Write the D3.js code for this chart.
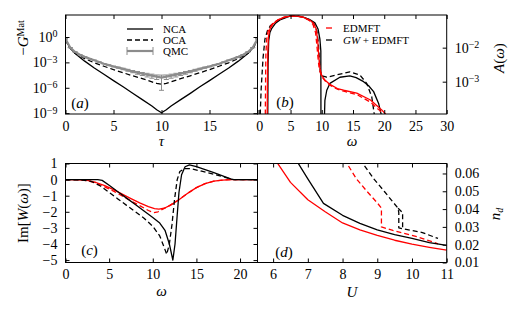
<!DOCTYPE html>
<html>
<head>
<meta charset="utf-8">
<script src="https://cdn.jsdelivr.net/npm/d3@7/dist/d3.min.js"></script>
<style>
body { margin: 0; background: #fff; }
text { font-family: "Liberation Serif", "DejaVu Serif", serif; fill: #000; }
.frame { fill: none; stroke: #000; stroke-width: 1; }
.curve { fill: none; stroke-width: 1.3; stroke-linejoin: round; }
.dash { stroke-dasharray: 5,3; }
</style>
</head>
<body>
<script>
//panel (a): -G(tau) on the Matsubara axis
var tauA = [0, 0.2, 0.5, 1, 2, 3, 4, 5, 6, 7, 8, 9, 9.5, 10, 10.5, 11, 12, 13, 14, 15, 16, 17, 18, 19, 19.5, 19.8, 20];
var ncaG = [6e-1, 1.8e-1, 5e-2, 1.1e-2, 1.4e-3, 2.2e-4, 4e-5, 7e-6, 1.3e-6, 2.2e-7, 4e-8, 7e-9, 2.5e-9, 1.1e-9,
            2.5e-9, 7e-9, 4e-8, 2.2e-7, 1.3e-6, 7e-6, 4e-5, 2.2e-4, 1.4e-3, 1.1e-2, 5e-2, 1.8e-1, 6e-1];
var ocaG = [6e-1, 1.6e-1, 4.5e-2, 1.2e-2, 2.8e-3, 9e-4, 3.5e-4, 1.4e-4, 6e-5, 2.6e-5, 1.2e-5, 5e-6, 3.3e-6, 2.6e-6,
            3.3e-6, 5e-6, 1.2e-5, 2.6e-5, 6e-5, 1.4e-4, 3.5e-4, 9e-4, 2.8e-3, 1.2e-2, 4.5e-2, 1.6e-1, 6e-1];
var qmcTau = [0, 0.5, 1, 1.5, 2, 2.5, 3, 3.5, 4, 4.5, 5, 5.5, 6, 6.5, 7, 7.5, 8, 8.5, 9, 9.5, 10,
              10.5, 11, 11.5, 12, 12.5, 13, 13.5, 14, 14.5, 15, 15.5, 16, 16.5, 17, 17.5, 18, 18.5, 19, 19.5, 20];
var qmcG = [6e-1, 5.5e-2, 1.7e-2, 8e-3, 4.5e-3, 2.8e-3, 1.8e-3, 1.1e-3, 7e-4, 4.8e-4, 3.3e-4, 2.4e-4, 1.7e-4, 1.2e-4, 8.5e-5, 6.2e-5, 4.6e-5, 3.5e-5, 2.7e-5, 2.1e-5, 1.6e-5,
            2.1e-5, 2.7e-5, 3.5e-5, 4.6e-5, 6.2e-5, 8.5e-5, 1.2e-4, 1.7e-4, 2.4e-4, 3.3e-4, 4.8e-4, 7e-4, 1.1e-3, 1.8e-3, 2.8e-3, 4.5e-3, 8e-3, 1.7e-2, 5.5e-2, 6e-1];
var qmcErr = [1.8e-2, 1.7e-3, 5e-4, 2.4e-4, 1.4e-4, 8e-5, 5e-5, 3.6e-5, 3.5e-5, 3.8e-5, 3.3e-5, 3.6e-5, 3.4e-5, 3e-5, 2.5e-5, 2.2e-5, 1.8e-5, 1.6e-5, 1.35e-5, 1.15e-5, 1.55e-5,
              1.15e-5, 1.35e-5, 1.6e-5, 1.8e-5, 2.2e-5, 2.5e-5, 3e-5, 3.4e-5, 3.6e-5, 3.3e-5, 3.8e-5, 3.5e-5, 3.6e-5, 5e-5, 8e-5, 1.4e-4, 2.4e-4, 5e-4, 1.7e-3, 1.8e-2];

//panel (b): spectral function A(omega), [omega, A]
var edmftNcaA = [[1.25, 6.3e-5], [1.3, 1.0e-3], [1.35, 6.3e-3], [1.45, 2.0e-2], [1.7, 3.55e-2], [2.2, 5.0e-2], [3, 6.6e-2], [4, 7.9e-2], [5, 8.5e-2], [6, 8.5e-2], [7, 7.9e-2], [8, 6.6e-2], [8.7, 5.25e-2], [9.1, 3.55e-2], [9.35, 1.58e-2], [9.5, 6.3e-3], [9.7, 2.5e-3], [10, 1.51e-3], [10.5, 1.12e-3], [11.3, 8.3e-4], [12.5, 6.3e-4], [13.5, 5.6e-4], [15.6, 4.6e-4], [17.8, 2.9e-4], [19.6, 1.48e-4], [20.2, 1.12e-4], [20.4, 7.9e-5]];
var edmftOcaA = [[0.95, 6.3e-5], [1.0, 1.0e-3], [1.05, 6.3e-3], [1.2, 2.0e-2], [1.5, 3.55e-2], [2.1, 5.0e-2], [3, 6.6e-2], [4, 7.9e-2], [5, 8.5e-2], [6, 8.5e-2], [7, 7.9e-2], [8, 6.3e-2], [8.6, 4.8e-2], [9.0, 2.8e-2], [9.2, 1.26e-2], [9.4, 5.0e-3], [9.6, 2.24e-3], [10, 1.41e-3], [10.5, 1.07e-3], [11.3, 7.9e-4], [12.5, 6.0e-4], [13.5, 5.25e-4], [15.6, 4.2e-4], [17.8, 2.5e-4], [19.3, 1.41e-4], [19.7, 1.12e-4], [19.9, 7.9e-5]];
var gwNcaA = [[1.35, 6.3e-5], [1.4, 3.2e-3], [1.5, 1.58e-2], [1.7, 2.8e-2], [2.0, 3.7e-2], [2.6, 5.25e-2], [3.3, 6.5e-2], [4.9, 8.5e-2], [6, 8.5e-2], [7, 7.9e-2], [8, 6.8e-2], [8.9, 5.4e-2], [9.4, 3.55e-2], [9.7, 1.78e-2], [9.85, 7.9e-3], [9.87, 6.3e-5], [10.1, 1e-5], [10.4, 6.3e-5], [10.5, 2.8e-4], [10.8, 5.6e-4], [11.3, 8.9e-4], [12.9, 1.35e-3], [14.5, 1.48e-3], [15.5, 1.32e-3], [16.7, 1.0e-3], [17.5, 7.6e-4], [18.3, 5.1e-4], [19.1, 2.3e-4], [19.5, 1.12e-4], [19.6, 6.3e-5]];
var gwOcaA = [[0.1, 6.3e-5], [0.3, 6.3e-4], [0.6, 5.0e-3], [0.9, 1.78e-2], [1.3, 3.16e-2], [1.8, 4.5e-2], [2.5, 5.6e-2], [3.5, 7.2e-2], [5, 8.7e-2], [6, 8.7e-2], [7, 7.9e-2], [8, 6.6e-2], [8.8, 5.0e-2], [9.2, 3.16e-2], [9.45, 1.41e-2], [9.6, 5.0e-3], [9.75, 2.0e-3], [10, 1.48e-3], [10.8, 1.35e-3], [12.4, 1.58e-3], [14.5, 1.95e-3], [16.1, 1.58e-3], [17.2, 8.9e-4], [18.0, 3.6e-4], [18.4, 1.12e-4], [18.5, 6.3e-5]];

//panel (c): Im W(omega), [omega, ImW]
var gwNcaW = [[0, 0], [3.7, 0], [4.2, -0.05], [5, -0.35], [6, -0.75], [7, -1.15], [8, -1.55], [9, -1.95], [10, -2.35], [10.8, -2.7], [11.4, -3.15], [11.9, -4.0], [12.3, -5.0], [12.55, -4.0], [12.8, -2.2], [13.0, -0.8], [13.3, 0.3], [13.7, 0.8], [14.2, 0.92], [15, 0.8], [16, 0.62], [17, 0.43], [18, 0.23], [19, 0.03], [19.3, 0], [22, 0]];
var gwOcaW = [[0, 0], [2, -0.03], [3, -0.12], [4, -0.4], [5, -0.8], [6, -1.2], [7, -1.6], [8, -2.0], [9, -2.4], [10, -2.9], [10.8, -3.5], [11.3, -4.2], [11.6, -4.65], [11.9, -4.0], [12.2, -2.8], [12.5, -1.2], [12.8, 0.0], [13.1, 0.5], [13.6, 0.68], [14.3, 0.68], [15.6, 0.52], [17, 0.33], [18.3, 0.14], [19.1, 0.01], [19.5, 0], [22, 0]];
var edmftNcaW = [[0, 0], [1.5, -0.01], [2.5, -0.05], [3.5, -0.18], [4.5, -0.38], [5.5, -0.62], [6.5, -0.9], [7.5, -1.18], [8.5, -1.45], [9.5, -1.68], [10.2, -1.8], [10.7, -1.83], [11.3, -1.78], [12, -1.6], [13, -1.25], [14, -0.85], [15, -0.5], [16, -0.25], [17, -0.1], [18, -0.03], [19, 0], [22, 0]];
var edmftOcaW = [[0, 0], [1.5, -0.01], [2.5, -0.06], [3.5, -0.22], [4.5, -0.45], [5.5, -0.72], [6.5, -1.02], [7.5, -1.32], [8.5, -1.62], [9.5, -1.92], [10.1, -2.05], [10.6, -2.0], [11.2, -1.82], [11.8, -1.65], [12.5, -1.42], [13, -1.25], [14, -0.85], [15, -0.5], [16, -0.25], [17, -0.1], [18, -0.03], [19, 0], [22, 0]];

//panel (d): double occupancy n_d(U), [U, n_d]
var edmftNcaN = [[6.05, 0.068], [6.5, 0.055], [7.0, 0.0452], [7.5, 0.0385], [8, 0.0322], [8.5, 0.0283], [9, 0.0252], [9.5, 0.0225], [10, 0.0203], [10.5, 0.0185], [11, 0.0169]];
var gwNcaN = [[6.65, 0.068], [7.0, 0.057], [7.45, 0.0432], [8, 0.0365], [8.5, 0.032], [9, 0.0283], [9.5, 0.0257], [10, 0.0235], [10.5, 0.0212], [11, 0.0196]];
var edmftOcaN = [[8.05, 0.068], [8.4, 0.057], [8.7, 0.050], [9.0, 0.0435], [9.12, 0.0405], [9.12, 0.030], [9.45, 0.028], [10.15, 0.0245], [10.75, 0.0205]];
var gwOcaN = [[8.5, 0.068], [8.9, 0.057], [9.2, 0.050], [9.45, 0.044], [9.6, 0.0405], [9.62, 0.038], [9.62, 0.0295], [9.73, 0.029], [10.3, 0.0268], [10.75, 0.0235]];
var gwOcaN2 = [[9.6, 0.0405], [9.73, 0.038], [9.73, 0.0295]];

//tick values
var ticksTau = [0, 5, 10, 15, 20], labelsTau = [0, 5, 10, 15];
var ticksGA = [1e0, 1e-3, 1e-6, 1e-9];
var ticksOmegaB = [0, 5, 10, 15, 20, 25, 30];
var ticksAB = [1e-2, 1e-3];
var ticksOmegaC = [0, 5, 10, 15, 20];
var ticksWC = [1, 0, -1, -2, -3, -4, -5];
var ticksUD = [6, 7, 8, 9, 10, 11];
var ticksND = [0.01, 0.02, 0.03, 0.04, 0.05, 0.06];

var width = 508, height = 310;
var svg = d3.select("body")
    .append("svg")
    .attr("width", width)
    .attr("height", height);

//panel scales
var xA = d3.scaleLinear().domain([0, 20]).range([65.5, 257.5]);
var yA = d3.scaleLog().domain([Math.pow(10, -9.1), Math.pow(10, 2.6)]).range([114, 15]);
var xB = d3.scaleLinear().domain([-0.29, 30]).range([257.5, 446.7]);
var yB = d3.scaleLog().domain([Math.pow(10, -3.95), Math.pow(10, -1.04)]).range([114, 15]);
var xC = d3.scaleLinear().domain([0, 22]).range([65.5, 257.5]);
var yC = d3.scaleLinear().domain([-5.15, 1]).range([262.5, 163.5]);
var xD = d3.scaleLinear().domain([5.55, 11]).range([257.5, 446.7]);
var yD = d3.scaleLinear().domain([0.01, 0.0656]).range([262.5, 163.5]);

//clip rect for each panel
function addClip(id, x, y){
    svg.append("clipPath").attr("id", id)
        .append("rect")
        .attr("x", x.range()[0]).attr("y", y.range()[1])
        .attr("width", x.range()[1] - x.range()[0])
        .attr("height", y.range()[0] - y.range()[1]);
    return svg.append("g").attr("clip-path", "url(#" + id + ")");
};

//axis helper: inward ticks, no domain path
function addAxis(gen, tx, ty){
    var g = svg.append("g")
        .attr("transform", "translate(" + tx + "," + ty + ")")
        .call(gen);
    g.select(".domain").remove();
    g.attr("font-size", 14);
    g.selectAll("line").attr("stroke", "#000");
    return g;
};

//10^n labels
function powLabels(g){
    g.selectAll(".tick text").each(function(d){
        var t = d3.select(this), e = Math.round(Math.log10(d));
        t.text(null);
        t.append("tspan").text("10");
        t.append("tspan").attr("dy", "-0.45em").attr("font-size", "10px")
            .text(e < 0 ? "\u2212" + (-e) : e);
    });
};

function frame(x, y){
    svg.append("rect").attr("class", "frame")
        .attr("x", x.range()[0]).attr("y", y.range()[1])
        .attr("width", x.range()[1] - x.range()[0])
        .attr("height", y.range()[0] - y.range()[1]);
};

function xyLine(x, y){
    return d3.line().x(function(d){ return x(d[0]); }).y(function(d){ return y(d[1]); });
};

function drawCurve(g, data, x, y, color, dashed){
    g.append("path")
        .datum(data)
        .attr("class", "curve" + (dashed ? " dash" : ""))
        .attr("stroke", color)
        .attr("d", xyLine(x, y));
};

var fmtInt = d3.format("d");

// ---------- panel (a) ----------
var gA = addClip("clipA", xA, yA);
var ncaPts = tauA.map(function(t, i){ return [t, ncaG[i]]; });
var ocaPts = tauA.map(function(t, i){ return [t, ocaG[i]]; });
var qmcPts = qmcTau.map(function(t, i){ return [t, qmcG[i], qmcErr[i]]; });
drawCurve(gA, ncaPts, xA, yA, "#000", false);
drawCurve(gA, ocaPts, xA, yA, "#000", true);
gA.append("path").datum(qmcPts)
    .attr("fill", "none").attr("stroke", "#8c8c8c").attr("stroke-width", 2.2)
    .attr("d", xyLine(xA, yA));
var eb = gA.selectAll(".eb").data(qmcPts).enter().append("g").attr("class", "eb")
    .attr("stroke", "#8c8c8c").attr("stroke-width", 1);
eb.append("line")
    .attr("x1", function(d){ return xA(d[0]); }).attr("x2", function(d){ return xA(d[0]); })
    .attr("y1", function(d){ return yA(d[1] + d[2]); }).attr("y2", function(d){ return yA(d[1] - d[2]); });
eb.append("line")
    .attr("x1", function(d){ return xA(d[0]) - 2.5; }).attr("x2", function(d){ return xA(d[0]) + 2.5; })
    .attr("y1", function(d){ return yA(d[1] + d[2]); }).attr("y2", function(d){ return yA(d[1] + d[2]); });
eb.append("line")
    .attr("x1", function(d){ return xA(d[0]) - 2.5; }).attr("x2", function(d){ return xA(d[0]) + 2.5; })
    .attr("y1", function(d){ return yA(d[1] - d[2]); }).attr("y2", function(d){ return yA(d[1] - d[2]); });

addAxis(d3.axisBottom(xA).tickValues(ticksTau).tickSize(-4).tickPadding(7)
    .tickFormat(function(d){ return labelsTau.indexOf(d) >= 0 ? fmtInt(d) : ""; }), 0, yA.range()[0]);
addAxis(d3.axisTop(xA).tickValues(ticksTau).tickSize(-4).tickFormat(""), 0, yA.range()[1]);
powLabels(addAxis(d3.axisLeft(yA).tickValues(ticksGA).tickSize(-4).tickPadding(8), xA.range()[0], 0));
addAxis(d3.axisRight(yA).tickValues(ticksGA).tickSize(-4).tickFormat(""), xA.range()[1], 0);

// ---------- panel (b) ----------
var gB = addClip("clipB", xB, yB);
drawCurve(gB, gwOcaA, xB, yB, "#000", true);
drawCurve(gB, gwNcaA, xB, yB, "#000", false);
drawCurve(gB, edmftOcaA, xB, yB, "#ff0000", true);
drawCurve(gB, edmftNcaA, xB, yB, "#ff0000", false);

addAxis(d3.axisBottom(xB).tickValues(ticksOmegaB).tickSize(-4).tickPadding(7).tickFormat(fmtInt), 0, yB.range()[0]);
addAxis(d3.axisTop(xB).tickValues(ticksOmegaB).tickSize(-4).tickFormat(""), 0, yB.range()[1]);
powLabels(addAxis(d3.axisRight(yB).tickValues(ticksAB).tickSize(-4).tickPadding(8), xB.range()[1], 0));

// ---------- panel (c) ----------
var gC = addClip("clipC", xC, yC);
drawCurve(gC, edmftOcaW, xC, yC, "#ff0000", true);
drawCurve(gC, edmftNcaW, xC, yC, "#ff0000", false);
drawCurve(gC, gwOcaW, xC, yC, "#000", true);
drawCurve(gC, gwNcaW, xC, yC, "#000", false);

addAxis(d3.axisBottom(xC).tickValues(ticksOmegaC).tickSize(-4).tickPadding(7).tickFormat(fmtInt), 0, yC.range()[0]);
addAxis(d3.axisTop(xC).tickValues(ticksOmegaC).tickSize(-4).tickFormat(""), 0, yC.range()[1]);
addAxis(d3.axisLeft(yC).tickValues(ticksWC).tickSize(-4).tickPadding(8).tickFormat(fmtInt), xC.range()[0], 0);
addAxis(d3.axisRight(yC).tickValues(ticksWC).tickSize(-4).tickFormat(""), xC.range()[1], 0);

// ---------- panel (d) ----------
var gD = addClip("clipD", xD, yD);
drawCurve(gD, edmftNcaN, xD, yD, "#ff0000", false);
drawCurve(gD, edmftOcaN, xD, yD, "#ff0000", true);
drawCurve(gD, gwNcaN, xD, yD, "#000", false);
drawCurve(gD, gwOcaN, xD, yD, "#000", true);
drawCurve(gD, gwOcaN2, xD, yD, "#000", true);

addAxis(d3.axisBottom(xD).tickValues(ticksUD).tickSize(-4).tickPadding(7).tickFormat(fmtInt), 0, yD.range()[0]);
addAxis(d3.axisTop(xD).tickValues(ticksUD).tickSize(-4).tickFormat(""), 0, yD.range()[1]);
addAxis(d3.axisRight(yD).tickValues(ticksND).tickSize(-4).tickPadding(8).tickFormat(d3.format(".2f")), xD.range()[1], 0);

//frames on top
frame(xA, yA); frame(xB, yB); frame(xC, yC); frame(xD, yD);

// ---------- axis labels ----------
function label(x, y, rot, parts, size){
    var t = svg.append("text")
        .attr("transform", "translate(" + x + "," + y + ")" + (rot ? " rotate(" + rot + ")" : ""))
        .attr("text-anchor", "middle")
        .attr("font-size", size || 15);
    parts.forEach(function(p){
        var s = t.append("tspan").text(p.t);
        if (p.i) s.attr("font-style", "italic");
        if (p.dy) s.attr("dy", p.dy);
        if (p.fs) s.attr("font-size", p.fs);
    });
    return t;
};

label(161.5, 146, 0, [{t: "\u03c4", i: 1}]);
label(352, 146, 0, [{t: "\u03c9", i: 1}]);
label(161.5, 296, 0, [{t: "\u03c9", i: 1}]);
label(352, 297, 0, [{t: "U", i: 1}]);
label(28, 38, -90, [{t: "\u2212"}, {t: "G", i: 1}, {t: "Mat", dy: "-0.45em", fs: "10px"}]);
label(28, 213, -90, [{t: "Im["}, {t: "W", i: 1}, {t: "("}, {t: "\u03c9", i: 1}, {t: ")]"}]);
label(504, 58, -90, [{t: "A", i: 1}, {t: "("}, {t: "\u03c9", i: 1}, {t: ")"}]);
label(500, 214, -90, [{t: "n", i: 1}, {t: "d", i: 1, dy: "0.3em", fs: "10px"}]);

//panel tags
label(80, 108, 0, [{t: "("}, {t: "a", i: 1}, {t: ")"}]);
label(285, 107, 0, [{t: "("}, {t: "b", i: 1}, {t: ")"}]);
label(89.5, 255, 0, [{t: "("}, {t: "c", i: 1}, {t: ")"}]);
label(284, 257, 0, [{t: "("}, {t: "d", i: 1}, {t: ")"}]);

// ---------- legends ----------
var legA = svg.append("g");
legA.append("line").attr("x1", 127).attr("x2", 153).attr("y1", 29).attr("y2", 29)
    .attr("stroke", "#000").attr("stroke-width", 1.3);
legA.append("line").attr("x1", 127).attr("x2", 153).attr("y1", 40).attr("y2", 40)
    .attr("class", "dash").attr("stroke", "#000").attr("stroke-width", 1.3);
legA.append("line").attr("x1", 127).attr("x2", 153).attr("y1", 51).attr("y2", 51)
    .attr("stroke", "#8c8c8c").attr("stroke-width", 2.2);
[127, 153].forEach(function(cx){
    legA.append("line").attr("x1", cx).attr("x2", cx).attr("y1", 47).attr("y2", 55)
        .attr("stroke", "#8c8c8c").attr("stroke-width", 1);
});
["NCA", "OCA", "QMC"].forEach(function(s, i){
    legA.append("text").attr("x", 163).attr("y", 33 + i * 11).attr("font-size", 11).text(s);
});

var legB = svg.append("g");
legB.append("line").attr("x1", 326).attr("x2", 332).attr("y1", 28).attr("y2", 28)
    .attr("stroke", "#ff0000").attr("stroke-width", 1.3);
legB.append("line").attr("x1", 326).attr("x2", 332).attr("y1", 40).attr("y2", 40)
    .attr("stroke", "#000").attr("stroke-width", 1.3);
legB.append("text").attr("x", 343).attr("y", 32).attr("font-size", 11).text("EDMFT");
var gwText = legB.append("text").attr("x", 343).attr("y", 44).attr("font-size", 11);
gwText.append("tspan").attr("font-style", "italic").text("GW");
gwText.append("tspan").text(" + EDMFT");
</script>
</body>
</html>
